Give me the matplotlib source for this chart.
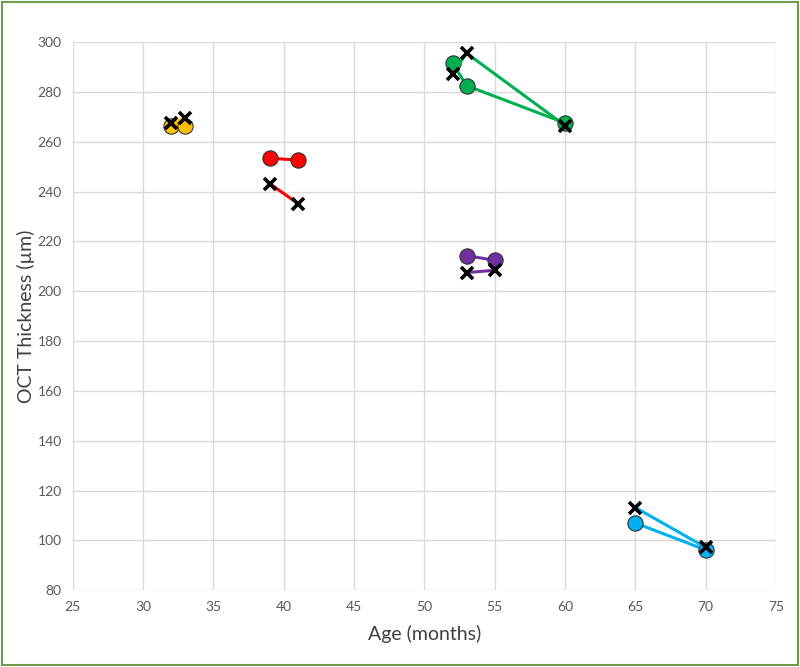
import matplotlib
matplotlib.use("Agg")
import matplotlib.pyplot as plt
from matplotlib.patches import Rectangle

plt.rcParams['font.family'] = ['Lato', 'DejaVu Sans']

# each subject: ages, thickness (circles) and thickness (crosses)
colors = ['#FFC000', '#FF0000', '#00B050', '#7030A0', '#00B0F0']
ages = [
    [32, 33],
    [39, 41],
    [52, 53, 60],
    [53, 55],
    [65, 70],
]
circ_vals = [
    [266.5, 266.5],
    [253.4, 252.6],
    [291.5, 282.5, 267.5],
    [214.3, 212.4],
    [107, 96.2],
]
cross_vals = [
    [267.5, 269.5],
    [243.2, 235.2],
    [287.3, 295.5, 266.5],
    [207.5, 208.4],
    [113.2, 97.2],
]

fig = plt.figure(figsize=(8, 6.67), dpi=100)
ax = fig.add_axes([0.091, 0.115, 0.879, 0.822])

for c, xs, yc in zip(colors, ages, circ_vals):
    ax.plot(xs, yc, '-', color=c, lw=2.2, marker='o', ms=11,
            mfc=c, mec='#333333', mew=0.8, zorder=3)
for c, xs, yx in zip(colors, ages, cross_vals):
    ax.plot(xs, yx, '-', color=c, lw=2.2, zorder=3)
    ax.plot(xs, yx, 'x', color='black', ms=9, mew=2.6, zorder=4)

ax.set_xlim(25, 75)
ax.set_ylim(80, 300)
ax.set_xticks(range(25, 76, 5))
ax.set_yticks(range(80, 301, 20))
ax.grid(color='#D9D9D9', lw=1)
ax.set_axisbelow(True)
for s in ax.spines.values():
    s.set_visible(False)
ax.tick_params(length=0, labelsize=10, colors='#595959', pad=8)
ax.set_xlabel('Age (months)', fontsize=14, color='#404040', labelpad=8)
ax.set_ylabel('OCT Thickness (µm)', fontsize=14, color='#404040', labelpad=2)

fig.patches.append(Rectangle((0.002, 0.003), 0.996, 0.994, transform=fig.transFigure,
                             fill=False, ec='#6F9A4C', lw=1.5))

fig.savefig('out.png', dpi=100)
